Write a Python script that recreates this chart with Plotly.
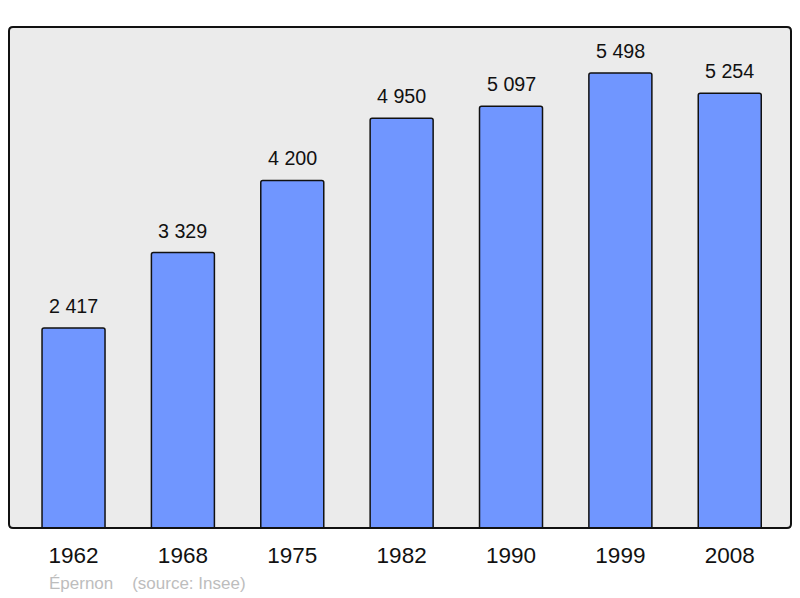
import plotly.graph_objects as go

years = ["1962", "1968", "1975", "1982", "1990", "1999", "2008"]
population = [2417, 3329, 4200, 4950, 5097, 5498, 5254]
value_labels = ["2 417", "3 329", "4 200", "4 950", "5 097", "5 498", "5 254"]
footer_text = "Épernon    (source: Insee)"

idx = list(range(len(years)))

W, H = 800, 598
ml, mr, mt, mb = 9, 9, 27, 70
pw, ph = W - ml - mr, H - mt - mb

fig = go.Figure()
fig.add_trace(go.Bar(
    x=idx, y=population, width=0.576,
    marker=dict(color="#7096ff", line=dict(color="#111111", width=1.5), cornerradius=2),
    hoverinfo="skip",
))

for i, v, t in zip(idx, population, value_labels):
    fig.add_annotation(x=i, y=v, text=t, showarrow=False, yanchor="bottom", yshift=9,
                       font=dict(size=19.7, color="#111111", family="Liberation Sans"))

fig.add_annotation(xref="paper", yref="paper", x=0, y=0, xshift=38, yshift=-55,
                   xanchor="left", yanchor="middle", text=footer_text, showarrow=False,
                   font=dict(size=17, color="#bdbdbd", family="Liberation Sans"))

# rounded plot frame
rx, ry = 4 / pw, 4 / ph
path = (f"M {rx},0 L {1-rx},0 Q 1,0 1,{ry} L 1,{1-ry} Q 1,1 {1-rx},1 "
        f"L {rx},1 Q 0,1 0,{1-ry} L 0,{ry} Q 0,0 {rx},0 Z")
fig.add_shape(type="path", path=path, xref="paper", yref="paper",
              line=dict(color="#111111", width=2), layer="above")

fig.update_layout(
    width=W, height=H,
    margin=dict(l=ml, r=mr, t=mt, b=mb),
    paper_bgcolor="white", plot_bgcolor="#ebebeb",
    showlegend=False,
    font=dict(family="Liberation Sans", color="#111111"),
    xaxis=dict(range=[-0.59, 6.56], tickvals=idx, ticktext=years, showgrid=False,
               zeroline=False, ticks="outside", ticklen=7, tickcolor="rgba(0,0,0,0)",
               tickfont=dict(size=22.5, color="#111111")),
    yaxis=dict(range=[0, 6054], showgrid=False, zeroline=False, showticklabels=False),
)

fig.write_html("out.html", config={"displayModeBar": False},
               post_script="document.body.style.margin='0';document.body.style.overflow='hidden';")
